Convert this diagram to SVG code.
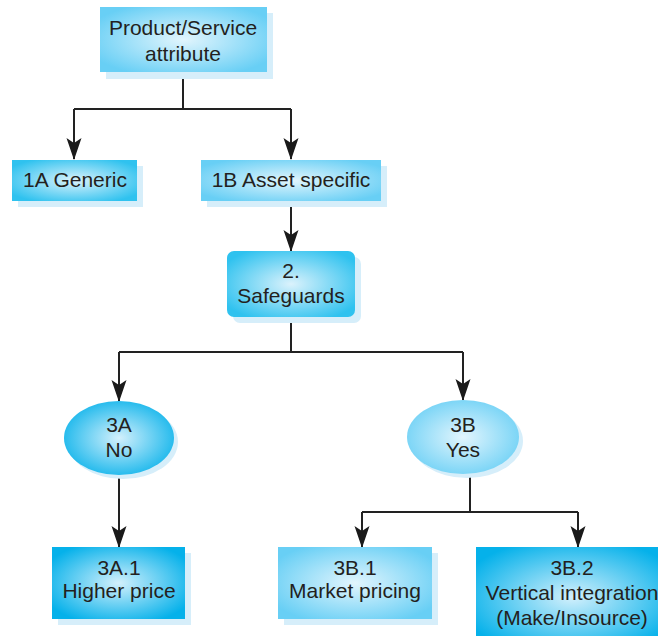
<svg xmlns="http://www.w3.org/2000/svg" width="658" height="636" viewBox="0 0 658 636">
  <defs>
    <radialGradient id="gLight" cx="50%" cy="50%" r="60%">
      <stop offset="0" stop-color="#e2f5fd"/>
      <stop offset="1" stop-color="#68cff5"/>
    </radialGradient>
    <radialGradient id="gMid" cx="50%" cy="50%" r="60%">
      <stop offset="0" stop-color="#dbf2fc"/>
      <stop offset="1" stop-color="#2fc2ef"/>
    </radialGradient>
    <radialGradient id="gDeep" cx="50%" cy="50%" r="60%">
      <stop offset="0" stop-color="#d3f0fc"/>
      <stop offset="1" stop-color="#05b1ea"/>
    </radialGradient>
    <marker id="arrow" viewBox="0 0 22 16" refX="21" refY="8" markerWidth="22" markerHeight="16" markerUnits="userSpaceOnUse" orient="auto">
      <path d="M0,0.5 L22,8 L0,15.5 L5,8 Z" fill="#1a1a1a"/>
    </marker>
  </defs>
  <style>
    .shadow { fill: #d6eefa; }
    .edge { fill: none; stroke: #222; stroke-width: 2; }
    .lbl { font-family: "Liberation Sans", Arial, sans-serif; font-size: 21px; fill: #231f20; text-anchor: middle; }
  </style>

  <rect width="658" height="636" fill="#ffffff"/>

  <!-- connectors -->
  <g id="connectors">
    <path class="edge" d="M183,72 V109"/>
    <path class="edge" d="M74,109 H291"/>
    <path class="edge" d="M74,109 V159" marker-end="url(#arrow)"/>
    <path class="edge" d="M291,109 V159" marker-end="url(#arrow)"/>
    <path class="edge" d="M291,201 V251" marker-end="url(#arrow)"/>
    <path class="edge" d="M291,317 V352"/>
    <path class="edge" d="M119,352 H463"/>
    <path class="edge" d="M119,352 V401" marker-end="url(#arrow)"/>
    <path class="edge" d="M463,352 V400" marker-end="url(#arrow)"/>
    <path class="edge" d="M119,475 V547" marker-end="url(#arrow)"/>
    <path class="edge" d="M470,473 V512"/>
    <path class="edge" d="M362,512 H578"/>
    <path class="edge" d="M362,512 V547" marker-end="url(#arrow)"/>
    <path class="edge" d="M578,512 V547" marker-end="url(#arrow)"/>
  </g>

  <!-- Product/Service attribute -->
  <g id="node-attribute">
    <rect class="shadow" x="106" y="13" width="167" height="66"/>
    <rect x="100" y="7" width="167" height="65" fill="url(#gLight)"/>
    <text class="lbl" x="183" y="35">Product/Service</text>
    <text class="lbl" x="183" y="61">attribute</text>
  </g>

  <!-- 1A Generic -->
  <g id="node-1a">
    <rect class="shadow" x="18" y="166" width="125" height="41"/>
    <rect x="12" y="160" width="125" height="41" fill="url(#gMid)"/>
    <text class="lbl" x="75" y="187">1A Generic</text>
  </g>

  <!-- 1B Asset specific -->
  <g id="node-1b">
    <rect class="shadow" x="207" y="166" width="180" height="41"/>
    <rect x="201" y="160" width="180" height="41" fill="url(#gLight)"/>
    <text class="lbl" x="291" y="187">1B Asset specific</text>
  </g>

  <!-- 2. Safeguards -->
  <g id="node-safeguards">
    <rect class="shadow" x="233" y="257" width="128" height="66" rx="7"/>
    <rect x="227" y="251" width="128" height="66" rx="7" fill="url(#gMid)"/>
    <text class="lbl" x="291" y="278">2.</text>
    <text class="lbl" x="291" y="303">Safeguards</text>
  </g>

  <!-- 3A No -->
  <g id="node-3a">
    <ellipse class="shadow" cx="123" cy="442" rx="55" ry="37"/>
    <ellipse cx="119" cy="438" rx="55" ry="37" fill="url(#gDeep)"/>
    <text class="lbl" x="119" y="432">3A</text>
    <text class="lbl" x="119" y="457">No</text>
  </g>

  <!-- 3B Yes -->
  <g id="node-3b">
    <ellipse class="shadow" cx="467" cy="441" rx="56" ry="37"/>
    <ellipse cx="463" cy="437" rx="56" ry="37" fill="url(#gLight)"/>
    <text class="lbl" x="463" y="432">3B</text>
    <text class="lbl" x="463" y="457">Yes</text>
  </g>

  <!-- 3A.1 Higher price -->
  <g id="node-3a1">
    <rect class="shadow" x="58" y="553" width="133" height="72"/>
    <rect x="52" y="547" width="133" height="72" fill="url(#gDeep)"/>
    <text class="lbl" x="119" y="575">3A.1</text>
    <text class="lbl" x="119" y="598">Higher price</text>
  </g>

  <!-- 3B.1 Market pricing -->
  <g id="node-3b1">
    <rect class="shadow" x="284" y="553" width="154" height="72"/>
    <rect x="278" y="547" width="154" height="72" fill="url(#gLight)"/>
    <text class="lbl" x="355" y="575">3B.1</text>
    <text class="lbl" x="355" y="598">Market pricing</text>
  </g>

  <!-- 3B.2 Vertical integration -->
  <g id="node-3b2">
    <rect class="shadow" x="482" y="553" width="192" height="100"/>
    <rect x="476" y="547" width="192" height="100" fill="url(#gDeep)"/>
    <text class="lbl" x="572" y="575">3B.2</text>
    <text class="lbl" x="572" y="600">Vertical integration</text>
    <text class="lbl" x="572" y="625">(Make/Insource)</text>
  </g>
</svg>
